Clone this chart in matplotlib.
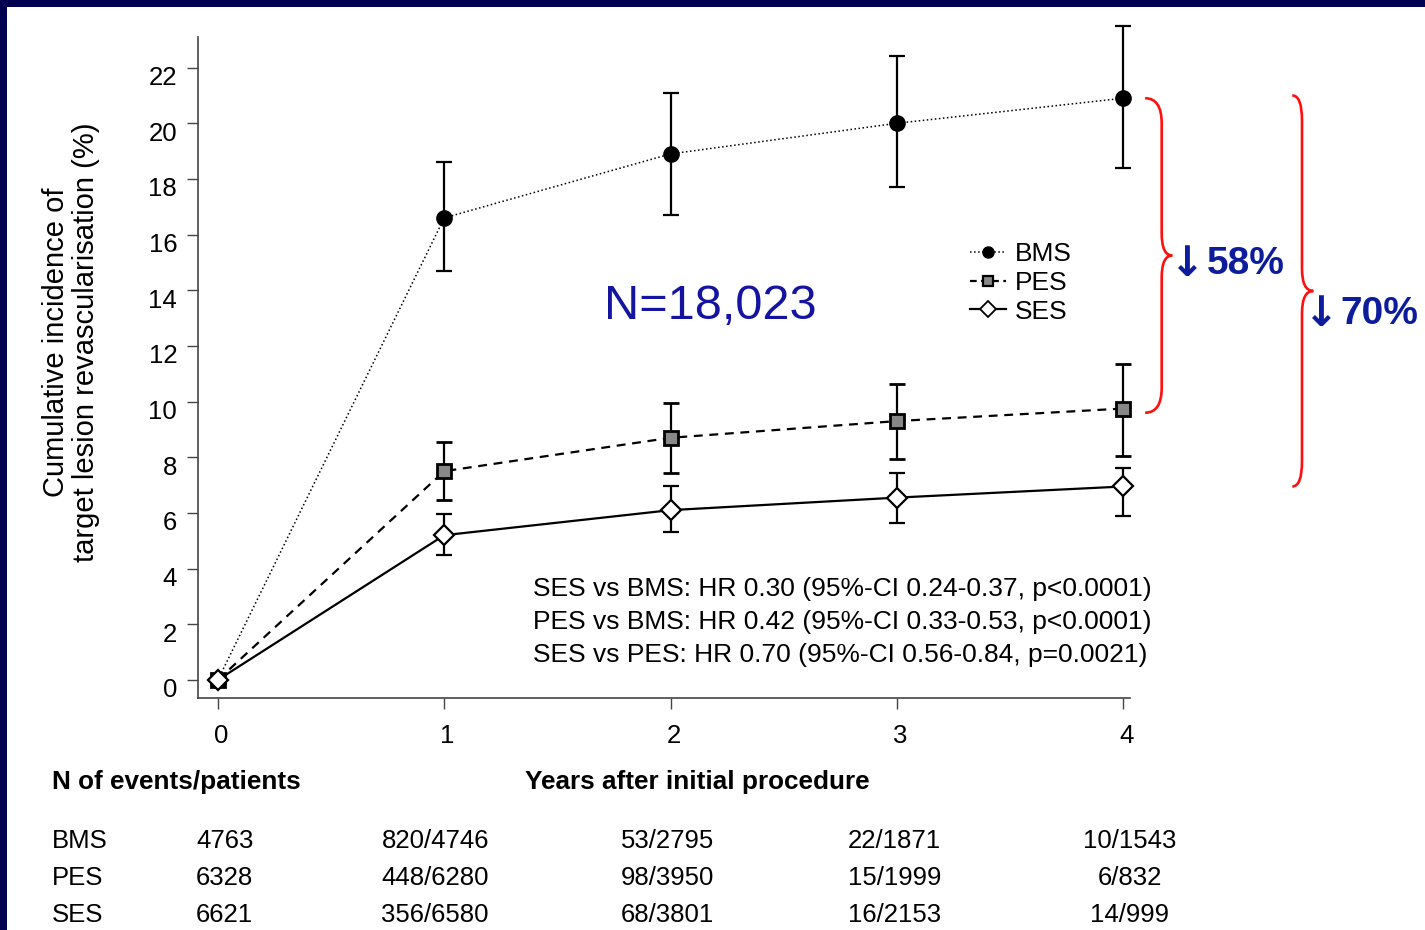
import matplotlib
matplotlib.use("Agg")
import matplotlib.pyplot as plt
from matplotlib.path import Path
from matplotlib.patches import PathPatch, Rectangle
from matplotlib.lines import Line2D
import matplotlib.transforms as mtransforms

plt.rcParams['font.family'] = ['Liberation Sans', 'DejaVu Sans']

# data
years = [0, 1, 2, 3, 4]
bms = [0, 16.6, 18.9, 20.0, 20.9]
bms_lo = [0, 14.7, 16.7, 17.7, 18.4]
bms_hi = [0, 18.6, 21.1, 22.4, 23.5]
pes = [0, 7.5, 8.7, 9.3, 9.75]
pes_lo = [0, 6.45, 7.45, 7.95, 8.05]
pes_hi = [0, 8.55, 9.95, 10.65, 11.35]
ses = [0, 5.2, 6.1, 6.55, 6.95]
ses_lo = [0, 4.5, 5.3, 5.65, 5.9]
ses_hi = [0, 5.95, 6.95, 7.45, 7.6]

yticks = [0, 2, 4, 6, 8, 10, 12, 14, 16, 18, 20, 22]

table_rows = ['BMS', 'PES', 'SES']
table_vals = [
    ['4763', '820/4746', '53/2795', '22/1871', '10/1543'],
    ['6328', '448/6280', '98/3950', '15/1999', '6/832'],
    ['6621', '356/6580', '68/3801', '16/2153', '14/999'],
]

stats_lines = [
    'SES vs BMS: HR 0.30 (95%-CI 0.24-0.37, p<0.0001)',
    'PES vs BMS: HR 0.42 (95%-CI 0.33-0.53, p<0.0001)',
    'SES vs PES: HR 0.70 (95%-CI 0.56-0.84, p=0.0021)',
]

W, H = 1425, 930
fig = plt.figure(figsize=(W / 100, H / 100), dpi=100)
fig.patch.set_facecolor('#000050')
fig.patches.append(Rectangle((7 / W, 0), 1, 1 - 7 / H, transform=fig.transFigure,
                             facecolor='white', edgecolor='none', zorder=-10))

ax = fig.add_axes([198 / W, 1 - 698 / H, (1130 - 198) / W, (698 - 37) / H])
ax.set_zorder(1)
ax.set_facecolor('none')
ax.set_xlim(-0.088, 4.03)
ax.set_ylim(-0.65, 23.1)

spine_col = '#444444'
for s in ['top', 'right']:
    ax.spines[s].set_visible(False)
for s in ['left', 'bottom']:
    ax.spines[s].set_color(spine_col)
    ax.spines[s].set_linewidth(1.2)
ax.set_yticks(yticks)
ax.set_xticks(years)
ax.tick_params(axis='both', colors=spine_col, labelcolor='black', length=8,
               width=1.0, labelsize=18.5)
ax.tick_params(axis='y', pad=7)
ax.tick_params(axis='x', pad=11)
# y labels sit a little below their ticks in the original
shift = mtransforms.ScaledTranslation(0, -8 / 100, fig.dpi_scale_trans)
for lab in ax.get_yticklabels():
    lab.set_transform(lab.get_transform() + shift)
xshift = mtransforms.ScaledTranslation(3 / 100, 0, fig.dpi_scale_trans)
for lab in ax.get_xticklabels():
    lab.set_transform(lab.get_transform() + xshift)


def err(v, lo, hi):
    return [[a - b for a, b in zip(v, lo)], [b - a for a, b in zip(v, hi)]]


ekw = dict(ecolor='black', elinewidth=1.6, capsize=5.5, capthick=1.6, clip_on=False)
ax.errorbar(years, bms, yerr=err(bms, bms_lo, bms_hi), color='black', ls=':', lw=1.1,
            marker='o', ms=11, mfc='black', mec='black', zorder=3, **ekw)
ax.errorbar(years, pes, yerr=err(pes, pes_lo, pes_hi), color='black', ls=(0, (4, 3)), lw=1.6,
            marker='s', ms=10, mfc='#888888', mec='black', mew=2, zorder=4, **ekw)
ax.errorbar(years, ses, yerr=err(ses, ses_lo, ses_hi), color='black', ls='-', lw=1.6,
            marker='D', ms=10, mfc='white', mec='black', mew=1.6, zorder=5, **ekw)

# legend
handles = [
    Line2D([], [], color='black', ls=':', lw=1.1, marker='o', ms=8, mfc='black'),
    Line2D([], [], color='black', ls=(0, (3, 2)), lw=1.6, marker='s', ms=7, mfc='#888888', mec='black', mew=1.6),
    Line2D([], [], color='black', ls='-', lw=1.6, marker='D', ms=8, mfc='white', mec='black', mew=1.3),
]
ax.legend(handles, table_rows, loc='upper left', bbox_to_anchor=(957 / W, 1 - 229 / H),
          bbox_transform=fig.transFigure, frameon=False, fontsize=19, handlelength=1.35,
          handletextpad=0.35, labelspacing=0.18, borderpad=0)

ax.text(1.706, 13.42, 'N=18,023', color='#1414a0', fontsize=35, ha='left', va='center')
ax.text(1.392, 2.08, '\n'.join(stats_lines), fontsize=19, ha='left', va='center',
        linespacing=1.45)


def brace(x0, xs, xtip, ytop, ybot, r1, r2):
    ymid = (ytop + ybot) / 2
    verts = [(x0, ytop), (xs, ytop), (xs, ytop - r1),
             (xs, ymid + r2), (xs, ymid), (xtip, ymid),
             (xs, ymid), (xs, ymid - r2),
             (xs, ybot + r1), (xs, ybot), (x0, ybot)]
    codes = [Path.MOVETO, Path.CURVE3, Path.CURVE3,
             Path.LINETO, Path.CURVE3, Path.CURVE3,
             Path.CURVE3, Path.CURVE3,
             Path.LINETO, Path.CURVE3, Path.CURVE3]
    ax.add_patch(PathPatch(Path(verts, codes), facecolor='none', edgecolor='#ff1010',
                           lw=1.9, clip_on=False))


brace(4.097, 4.17, 4.217, bms[-1], pes[-1] - 0.15, 0.9, 0.8)
brace(4.747, 4.79, 4.84, bms[-1] + 0.1, ses[-1], 0.9, 0.8)

blue = '#0c1c9c'
for xa, xp, yc, txt in [(4.285, 4.37, 14.95, '58%'), (4.875, 4.96, 13.15, '70%')]:
    ax.text(xa, yc, '\u2193', color=blue, fontsize=30, family='DejaVu Sans',
            fontweight='bold', ha='center', va='center', clip_on=False)
    ax.text(xp, yc, txt, color=blue, fontsize=28, fontweight='bold',
            ha='left', va='center', clip_on=False)

# axis labels
fig.text(71 / W, 1 - 342 / H, 'Cumulative incidence of\ntarget lesion revascularisation (%)',
         rotation=90, ha='center', va='center', fontsize=21, linespacing=1.05)
fig.text(697 / W, 1 - 782 / H, 'Years after initial procedure', ha='center', va='center',
         fontsize=18.8, fontweight='bold')
fig.text(52 / W, 1 - 782 / H, 'N of events/patients', ha='left', va='center',
         fontsize=18.8, fontweight='bold')

# numbers at risk table
trans = mtransforms.blended_transform_factory(ax.transData, fig.transFigure)
col_x = [0.03, 0.96, 1.985, 2.99, 4.03]
row_y = [1 - 841 / H, 1 - 878 / H, 1 - 915 / H]
for name, vals, yy in zip(table_rows, table_vals, row_y):
    fig.text(52 / W, yy, name, ha='left', va='center', fontsize=18.5)
    for xx, v in zip(col_x, vals):
        ax.text(xx, yy, v, transform=trans, ha='center', va='center', fontsize=18.5,
                clip_on=False)

fig.savefig('out.png', dpi=100, facecolor=fig.get_facecolor())
